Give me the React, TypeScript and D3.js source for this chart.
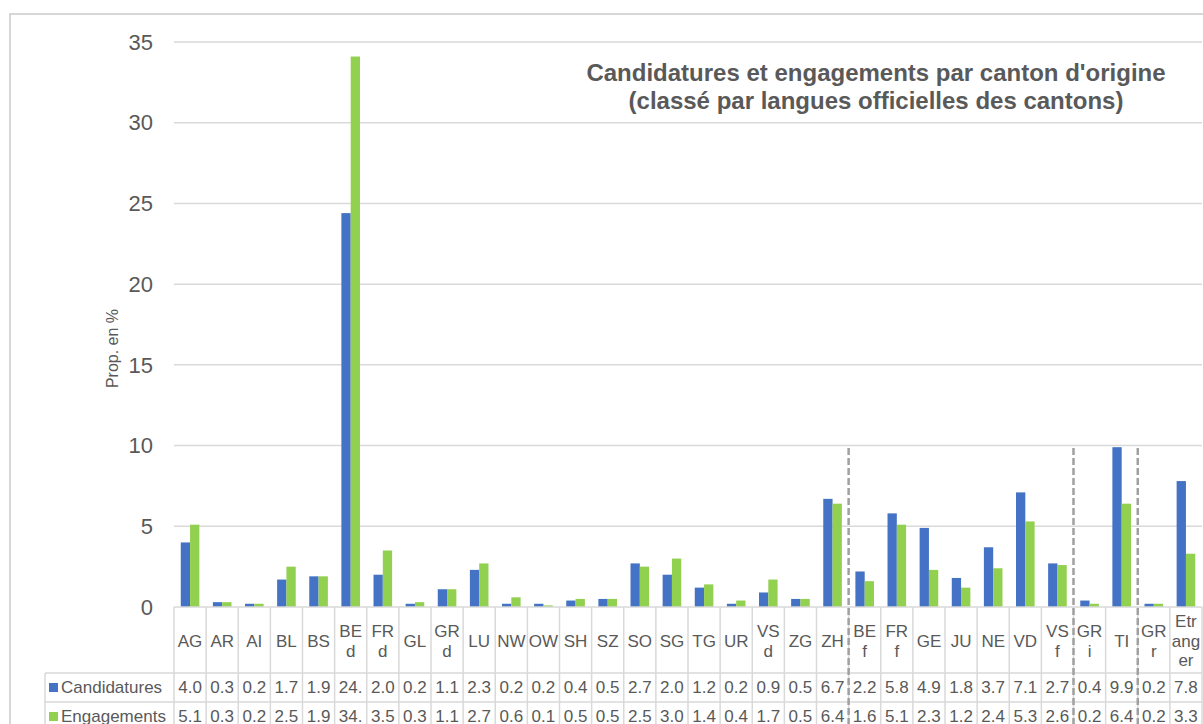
import React, { useEffect, useRef } from 'react';
import * as d3 from 'd3';

// Cantons (line breaks = wrapped labels as in the Excel data table)
const cantons = [
  'AG', 'AR', 'AI', 'BL', 'BS', 'BE\nd', 'FR\nd', 'GL', 'GR\nd', 'LU', 'NW', 'OW', 'SH', 'SZ', 'SO', 'SG',
  'TG', 'UR', 'VS\nd', 'ZG', 'ZH', 'BE\nf', 'FR\nf', 'GE', 'JU', 'NE', 'VD', 'VS\nf', 'GR\ni', 'TI', 'GR\nr',
  'Etr\nang\ner',
];

const candidatures = [
  4.0, 0.3, 0.2, 1.7, 1.9, 24.4, 2.0, 0.2, 1.1, 2.3, 0.2, 0.2, 0.4, 0.5, 2.7, 2.0,
  1.2, 0.2, 0.9, 0.5, 6.7, 2.2, 5.8, 4.9, 1.8, 3.7, 7.1, 2.7, 0.4, 9.9, 0.2, 7.8,
];

const engagements = [
  5.1, 0.3, 0.2, 2.5, 1.9, 34.1, 3.5, 0.3, 1.1, 2.7, 0.6, 0.1, 0.5, 0.5, 2.5, 3.0,
  1.4, 0.4, 1.7, 0.5, 6.4, 1.6, 5.1, 2.3, 1.2, 2.4, 5.3, 2.6, 0.2, 6.4, 0.2, 3.3,
];

const seriesNames = ['Candidatures', 'Engagements'];
const seriesColors = ['#4472C4', '#92D050'];

// language groups end after these cantons -> dashed separators
const separatorsAfter = ['ZH', 'VS\nf', 'TI'];

const yTicks = [0, 5, 10, 15, 20, 25, 30, 35];

const titleLines = [
  "Candidatures et engagements par canton d'origine",
  '(classé par langues officielles des cantons)',
];

const W = 1203;
const H = 724;
const FONT = '"Liberation Sans", Arial, sans-serif';
const GRAY = '#595959';
const GRID = '#D9D9D9';

const App = () => {
  const svgRef = useRef<SVGSVGElement>(null);

  useEffect(() => {
    if (!svgRef.current) return;
    const svg = d3.select(svgRef.current);
    svg.selectAll('*').remove();

    const plotLeft = 174;
    const plotRight = 1202;
    const plotTop = 42;
    const plotBottom = 607;
    const tableLeft = 45;
    const headerBottom = 673;
    const rowH = 29;

    const x = d3.scaleBand<string>().domain(cantons).range([plotLeft, plotRight]).paddingInner(0).paddingOuter(0);
    const xs = d3.scaleBand<string>().domain(seriesNames).range([0, x.bandwidth()]).paddingInner(0).paddingOuter(0.727);
    const y = d3.scaleLinear().domain([0, 35]).range([plotBottom, plotTop]);

    // chart frame (cut off on right and bottom)
    svg.append('rect')
      .attr('x', 10).attr('y', 14)
      .attr('width', W + 20).attr('height', H + 20)
      .attr('fill', 'white')
      .attr('stroke', '#BFBFBF').attr('stroke-width', 1.25);

    // gridlines
    svg.append('g')
      .selectAll('line')
      .data(yTicks.filter(t => t > 0))
      .join('line')
      .attr('x1', plotLeft).attr('x2', plotRight)
      .attr('y1', d => y(d)).attr('y2', d => y(d))
      .attr('stroke', GRID).attr('stroke-width', 1.5);

    // y tick labels
    svg.append('g')
      .selectAll('text')
      .data(yTicks)
      .join('text')
      .attr('x', 153)
      .attr('y', d => y(d))
      .attr('dy', '0.35em')
      .attr('text-anchor', 'end')
      .style('font-family', FONT)
      .style('font-size', '22px')
      .attr('fill', GRAY)
      .text(d => d);

    // y axis title
    svg.append('text')
      .attr('transform', `translate(118,${(plotTop + plotBottom) / 2 + 24}) rotate(-90)`)
      .attr('text-anchor', 'middle')
      .style('font-family', FONT)
      .style('font-size', '16px')
      .attr('fill', GRAY)
      .text('Prop. en %');

    // bars
    const series = [candidatures, engagements];
    series.forEach((vals, si) => {
      svg.append('g')
        .selectAll('rect')
        .data(vals)
        .join('rect')
        .attr('x', (d, i) => (x(cantons[i]) as number) + (xs(seriesNames[si]) as number))
        .attr('width', xs.bandwidth())
        .attr('y', d => y(d))
        .attr('height', d => y(0) - y(d))
        .attr('fill', seriesColors[si]);
    });

    // data table
    const table = svg.append('g');
    const bottom = H + 10;
    // horizontal lines
    table.append('line')
      .attr('x1', plotLeft).attr('x2', plotRight)
      .attr('y1', plotBottom).attr('y2', plotBottom)
      .attr('stroke', GRID).attr('stroke-width', 1.5);
    [headerBottom, headerBottom + rowH].forEach(yy => {
      table.append('line')
        .attr('x1', tableLeft).attr('x2', plotRight)
        .attr('y1', yy).attr('y2', yy)
        .attr('stroke', GRID).attr('stroke-width', 1.5);
    });
    // vertical lines
    const bounds = cantons.map(c => x(c) as number).concat([plotRight]);
    table.selectAll('line.v')
      .data(bounds)
      .join('line')
      .attr('class', 'v')
      .attr('x1', d => d).attr('x2', d => d)
      .attr('y1', plotBottom).attr('y2', bottom)
      .attr('stroke', GRID).attr('stroke-width', 1.5);
    table.append('line')
      .attr('x1', tableLeft).attr('x2', tableLeft)
      .attr('y1', headerBottom).attr('y2', bottom)
      .attr('stroke', GRID).attr('stroke-width', 1.5);

    // category labels
    const lineH = 19.5;
    const catMid = (plotBottom + headerBottom) / 2 + 1;
    cantons.forEach(c => {
      const lines = c.split('\n');
      const t = table.append('text')
        .attr('text-anchor', 'middle')
        .style('font-family', FONT)
        .style('font-size', '17px')
        .attr('fill', GRAY);
      lines.forEach((ln, li) => {
        t.append('tspan')
          .attr('x', (x(c) as number) + x.bandwidth() / 2)
          .attr('y', catMid + (li - (lines.length - 1) / 2) * lineH)
          .attr('dy', '0.35em')
          .text(ln);
      });
    });

    // value rows
    const fmt = d3.format('.1f');
    series.forEach((vals, si) => {
      const rowMid = headerBottom + rowH * si + rowH / 2;
      table.append('rect')
        .attr('x', tableLeft + 4).attr('y', rowMid - 4.5)
        .attr('width', 9).attr('height', 9)
        .attr('fill', seriesColors[si]);
      table.append('text')
        .attr('x', tableLeft + 16).attr('y', rowMid)
        .attr('dy', '0.35em')
        .style('font-family', FONT)
        .style('font-size', '17px')
        .attr('fill', GRAY)
        .text(seriesNames[si]);
      table.append('g')
        .selectAll('text')
        .data(vals)
        .join('text')
        .attr('x', (d, i) => (x(cantons[i]) as number) + x.bandwidth() / 2)
        .attr('y', rowMid)
        .attr('dy', '0.35em')
        .attr('text-anchor', 'middle')
        .style('font-family', FONT)
        .style('font-size', '17px')
        .attr('fill', GRAY)
        .text(d => {
          const s = fmt(d);
          return s.length > 3 ? s.slice(0, 3) : s;
        });
    });

    // dashed language separators
    svg.append('g')
      .selectAll('line')
      .data(separatorsAfter)
      .join('line')
      .attr('x1', d => (x(d) as number) + x.bandwidth())
      .attr('x2', d => (x(d) as number) + x.bandwidth())
      .attr('y1', 448).attr('y2', bottom)
      .attr('stroke', '#A0A0A0')
      .attr('stroke-width', 2.5)
      .attr('stroke-dasharray', '7,3');

    // title
    const title = svg.append('text')
      .attr('text-anchor', 'middle')
      .style('font-family', FONT)
      .style('font-size', '24px')
      .style('font-weight', 'bold')
      .attr('fill', GRAY);
    titleLines.forEach((ln, i) => {
      title.append('tspan').attr('x', 876).attr('y', 81 + i * 28).text(ln);
    });
  }, []);

  return (
    <svg
      ref={svgRef}
      width={W}
      height={H}
      style={{ position: 'absolute', left: 0, top: 0, display: 'block', background: 'white' }}
    />
  );
};

export default App;
